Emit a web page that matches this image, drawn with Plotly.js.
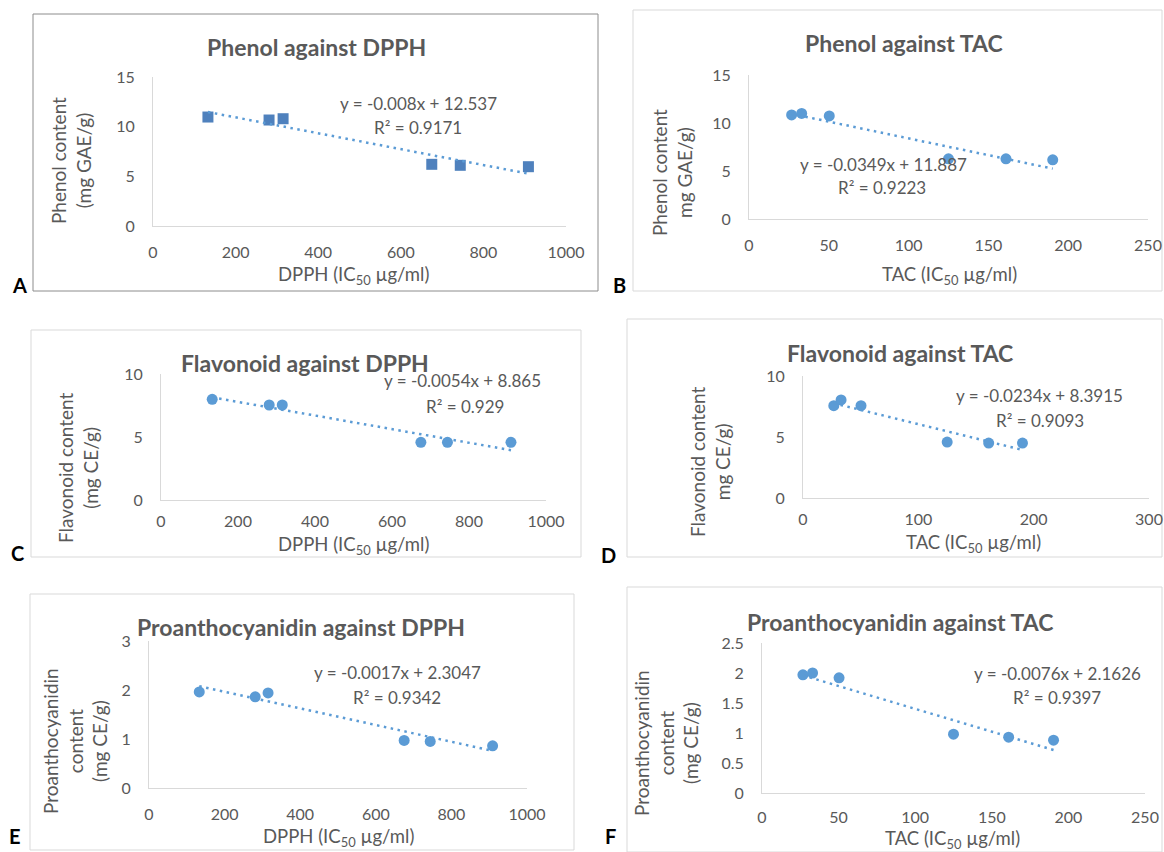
<!DOCTYPE html>
<html><head><meta charset="utf-8">
<script src="https://cdn.plot.ly/plotly-3.0.1.min.js"></script>
<style>html,body{margin:0;padding:0;background:#fff}#chart{width:1164px;height:852px}</style>
</head><body><div id="chart"></div>
<script>
// ---------- data ----------
const dpphIC50 = [133, 281, 315, 675, 744, 909];
const tacIC50  = [26.7, 33, 50.3, 125, 161, 190.3];

const phenolVsDpph = [10.97, 10.67, 10.80, 6.21, 6.11, 5.97];
const phenolVsTac  = [10.84, 11.00, 10.74, 6.27, 6.27, 6.17];
const flavVsDpph   = [7.99, 7.54, 7.54, 4.58, 4.58, 4.58];
const flavVsTac    = [7.57, 8.04, 7.57, 4.58, 4.50, 4.50];
const proVsDpph    = [1.96, 1.86, 1.94, 0.97, 0.95, 0.86];
const proVsTac     = [1.97, 2.00, 1.92, 0.98, 0.93, 0.88];

const slopes     = [-0.008, -0.0349, -0.0054, -0.0234, -0.0017, -0.0076];
const intercepts = [12.537, 11.887, 8.865, 8.3915, 2.3047, 2.1626];
const rSquared   = [0.9171, 0.9223, 0.929, 0.9093, 0.9342, 0.9397];

const panelTitles = ['Phenol against DPPH', 'Phenol against TAC', 'Flavonoid against DPPH',
                     'Flavonoid against TAC', 'Proanthocyanidin against DPPH', 'Proanthocyanidin against TAC'];
const xTitles = ['DPPH (IC<sub>50</sub> µg/ml)', 'TAC (IC<sub>50</sub> µg/ml)', 'DPPH (IC<sub>50</sub> µg/ml)',
                 'TAC (IC<sub>50</sub> µg/ml)', 'DPPH (IC<sub>50</sub> µg/ml)', 'TAC (IC<sub>50</sub> µg/ml)'];
const yTitles = ['Phenol content<br>(mg GAE/g)', 'Phenol content<br>mg GAE/g)', 'Flavonoid content<br>(mg CE/g)',
                 'Flavonoid content<br>mg CE/g)', 'Proanthocyanidin<br>content<br>(mg CE/g)', 'Proanthocyanidin<br>content<br>(mg CE/g)'];
const panelLetters = ['A', 'B', 'C', 'D', 'E', 'F'];

const xSeries = [dpphIC50, tacIC50, dpphIC50, tacIC50, dpphIC50, tacIC50];
const ySeries = [phenolVsDpph, phenolVsTac, flavVsDpph, flavVsTac, proVsDpph, proVsTac];

// ---------- layout geometry (pixels) ----------
const W = 1164, H = 852;
const px = x => x / W, py = y => 1 - y / H;
const panels = [
  {x:[153,566], y:[226,77],  box:[33,14,598,291],   boxColor:'#8c8c8c', title:[316,47],  eq:[418,103], r2:[418,128], yt:[71,161],  xt:[353,275], lt:[19,285], sym:'square', xr:[0,1000], xd:200, yr:[0,15], yd:5, xso:12},
  {x:[749,1148],y:[219,75],  box:[633,10,1162,291], boxColor:'#d9d9d9', title:[904,43],  eq:[883,164], r2:[882,188], yt:[672,172], xt:[949,275], lt:[619,285], sym:'circle', xr:[0,250], xd:50, yr:[0,15], yd:5, xso:12},
  {x:[161,546], y:[500,374], box:[31,330,581,557],  boxColor:'#d9d9d9', title:[305,363], eq:[463,380], r2:[465,406], yt:[78,468],  xt:[354,545], lt:[17,553], sym:'circle', xr:[0,1000], xd:200, yr:[0,10], yd:5, xso:7},
  {x:[803,1149],y:[498,376], box:[627,319,1162,557],boxColor:'#d9d9d9', title:[900,353], eq:[1039,395],r2:[1040,420],yt:[710,462], xt:[973,543], lt:[608,555], sym:'circle', xr:[0,300], xd:100, yr:[0,10], yd:5, xso:7},
  {x:[149,527], y:[788,641], box:[30,594,574,850],  boxColor:'#d9d9d9', title:[301,627], eq:[397,672], r2:[397,697], yt:[75,741],  xt:[338,837], lt:[15,836], sym:'circle', xr:[0,1000], xd:200, yr:[0,3], yd:1, xso:12},
  {x:[762,1145],y:[793,643], box:[627,587,1162,852],boxColor:'#d9d9d9', title:[900,622], eq:[1057,673],r2:[1057,697],yt:[666,743], xt:[952,839], lt:[610,836], sym:'circle', xr:[0,250], xd:50, yr:[0,2.5], yd:0.5, xso:10}
];

const FONT = 'Lato, "Open Sans", sans-serif';
const GREY = '#595959';
const BLUE = '#5B9BD5';

const traces = [];
const layout = {
  width: W, height: H, margin: {l:0, r:0, t:0, b:0},
  paper_bgcolor: '#fff', plot_bgcolor: 'rgba(0,0,0,0)',
  showlegend: false, font: {family: FONT, color: GREY, size: 16},
  shapes: [], annotations: []
};

panels.forEach((p, i) => {
  const n = i === 0 ? '' : String(i + 1);
  const xa = 'x' + n, ya = 'y' + n;
  const xs = xSeries[i], ys = ySeries[i];
  traces.push({
    type: 'scatter', mode: 'markers', x: xs, y: ys, xaxis: xa, yaxis: ya,
    marker: {symbol: p.sym, size: 11, color: p.sym === 'square' ? '#4F81BD' : BLUE},
    cliponaxis: false, hoverinfo: 'x+y'
  });
  const xmin = Math.min(...xs), xmax = Math.max(...xs);
  traces.push({
    type: 'scatter', mode: 'lines', x: [xmin, xmax],
    y: [slopes[i] * xmin + intercepts[i], slopes[i] * xmax + intercepts[i]],
    xaxis: xa, yaxis: ya, line: {color: BLUE, width: 2.5, dash: '2.5px,4.5px'}, hoverinfo: 'skip'
  });
  const common = {showline: true, linecolor: '#d9d9d9', linewidth: 1, showgrid: false, zeroline: false,
                  ticks: '', tick0: 0, tickfont: {family: FONT, size: 16, color: GREY}, fixedrange: true};
  layout['xaxis' + n] = Object.assign({}, common, {
    domain: [px(p.x[0]), px(p.x[1])], range: p.xr, dtick: p.xd, anchor: ya, ticklabelstandoff: p.xso
  });
  layout['yaxis' + n] = Object.assign({}, common, {
    domain: [py(p.y[0]), py(p.y[1])], range: p.yr, dtick: p.yd, anchor: xa, ticklabelstandoff: 14
  });
  layout.shapes.push({type: 'rect', xref: 'paper', yref: 'paper', layer: 'below',
    x0: px(p.box[0]), x1: px(p.box[2]), y0: py(p.box[1]), y1: py(p.box[3]),
    line: {color: p.boxColor, width: 1}, fillcolor: 'rgba(0,0,0,0)'});
  const ann = (pos, text, extra) => layout.annotations.push(Object.assign({
    xref: 'paper', yref: 'paper', x: px(pos[0]), y: py(pos[1]), xanchor: 'center', yanchor: 'middle',
    showarrow: false, text: text, font: {family: FONT, size: 16, color: GREY}
  }, extra || {}));
  ann(p.title, '<b>' + panelTitles[i] + '</b>', {font: {family: FONT, size: 23, color: GREY}});
  ann(p.eq, 'y = ' + slopes[i] + 'x + ' + intercepts[i], {font: {family: FONT, size: 17, color: GREY}});
  ann(p.r2, 'R² = ' + rSquared[i], {font: {family: FONT, size: 17, color: GREY}});
  ann(p.xt, xTitles[i], {font: {family: FONT, size: 18.5, color: GREY}});
  ann(p.yt, yTitles[i], {textangle: -90, font: {family: FONT, size: 19, color: GREY}});
  ann(p.lt, '<b>' + panelLetters[i] + '</b>', {font: {family: FONT, size: 20, color: '#000'}, borderpad: 0});
});

Plotly.newPlot('chart', traces, layout, {displayModeBar: false, staticPlot: true});
</script>
</body></html>
